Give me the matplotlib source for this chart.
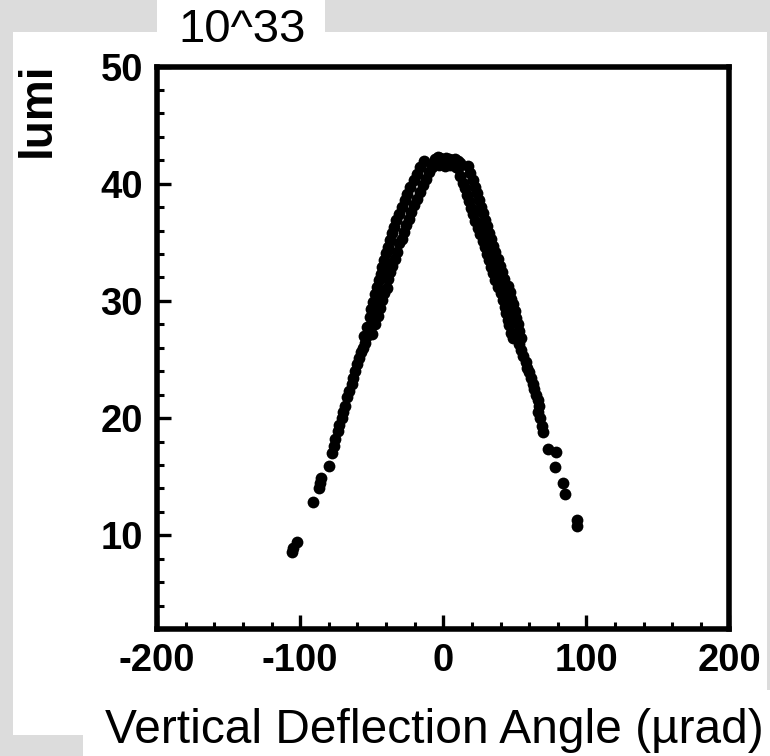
import matplotlib
matplotlib.use("Agg")
import matplotlib.pyplot as plt
from matplotlib.patches import Rectangle
from matplotlib.ticker import MultipleLocator

plt.rcParams["axes.unicode_minus"] = False

# luminosity scan vs vertical deflection angle: left flank, peak, right flank
angle_left = [
    -106.0, -105.0, -102.0, -91.0, -86.5, -86.0, -85.5, -80.0, -78.0, -76.5,
    -75.5, -73.5, -72.5, -71.0, -70.0, -68.5, -67.0, -66.0, -64.0, -63.0,
    -61.5, -60.0, -59.0, -57.5, -56.0, -55.0, -54.0,
    -55.5, -49.5, -53.0, -47.5, -51.5, -45.5, -50.5, -44.0, -49.0, -43.0,
    -48.0, -41.5, -46.0, -39.5, -45.0, -38.5, -43.5, -37.0, -42.5, -35.5,
    -41.5, -34.0, -40.0, -32.5, -38.5, -31.0, -37.5, -29.0, -36.0, -27.5,
    -34.5, -26.0, -33.0, -24.0, -31.0, -22.5, -29.0, -20.5, -27.0, -18.5,
    -25.0, -16.0, -23.0, -14.0, -20.5, -12.0, -18.5, -10.0, -16.0, -8.0,
    -13.5, -6.0,
]
lumi_left = [
    8.6, 8.9, 9.4, 12.8, 14.0, 14.5, 14.9, 15.9, 17.0, 17.6,
    18.2, 18.9, 19.4, 20.0, 20.5, 21.0, 21.8, 22.3, 22.9, 23.4,
    24.0, 24.6, 25.1, 25.6, 26.0, 26.4, 26.9,
    27.0, 27.2, 27.8, 28.0, 28.6, 28.7, 29.3, 29.4, 29.9, 30.1,
    30.6, 30.7, 31.2, 31.1, 31.8, 31.9, 32.3, 32.5, 32.9, 33.0,
    33.5, 33.6, 34.1, 34.2, 34.6, 34.9, 35.2, 35.3, 35.8, 35.9,
    36.3, 36.5, 36.9, 37.0, 37.4, 37.6, 38.0, 38.2, 38.6, 38.7,
    39.1, 39.3, 39.7, 39.9, 40.3, 40.4, 40.8, 41.0, 41.4, 41.4,
    41.9, 41.9,
]

angle_peak = [-6.0, -4.0, -2.0, 0.0, 2.0, 4.0, 6.0, 8.0, 10.0, 12.0, -3.0, 1.0, 5.0, 9.0]
lumi_peak = [42.1, 42.3, 42.2, 42.0, 42.2, 42.1, 42.0, 42.1, 41.9, 41.8, 41.6, 41.5, 41.6, 41.4]

angle_right = [
    10.5, 17.0, 12.0, 19.0, 13.5, 20.5, 15.0, 22.0, 16.5, 23.5,
    18.0, 25.0, 19.5, 26.5, 21.0, 28.0, 22.5, 29.0, 24.0, 30.5,
    25.5, 32.0, 27.5, 33.5, 29.0, 35.0, 30.5, 36.5, 32.0, 38.0,
    33.5, 39.5, 35.0, 41.0, 36.5, 42.5, 38.5, 45.0, 40.0, 46.5,
    41.5, 47.5, 43.0, 48.5, 44.0, 50.0, 45.0, 51.0, 46.0, 52.0,
    47.0, 53.0, 48.5, 54.5,
    53.0, 54.5, 56.0, 57.5, 58.5, 60.0, 61.0, 62.5, 63.5, 64.5,
    66.0, 67.0, 66.0, 67.5, 69.0, 69.5, 73.0, 77.8, 79.0, 83.6,
    84.8, 93.3, 93.3,
]
lumi_right = [
    41.3, 41.5, 40.7, 40.9, 40.1, 40.3, 39.6, 39.7, 39.0, 39.2,
    38.5, 38.6, 37.9, 38.0, 37.4, 37.5, 36.8, 36.9, 36.2, 36.4,
    35.7, 35.8, 35.1, 35.3, 34.6, 34.7, 34.0, 34.2, 33.5, 33.6,
    32.9, 33.0, 32.4, 32.5, 31.8, 31.9, 31.2, 31.3, 30.7, 30.8,
    30.1, 30.2, 29.5, 29.7, 29.0, 29.1, 28.4, 28.5, 27.9, 28.0,
    27.3, 27.4, 26.8, 26.8,
    26.3, 25.8, 25.3, 24.8, 24.3, 23.9, 23.4, 22.9, 22.5, 22.0,
    21.5, 21.0, 20.5, 20.0, 19.3, 18.8, 17.4, 15.8, 17.1, 14.5,
    13.5, 10.8, 11.3,
]

x_ticks = [-200, -100, 0, 100, 200]
y_ticks = [10, 20, 30, 40, 50]

fig = plt.figure(figsize=(7.7, 7.56), dpi=100)
fig.patch.set_facecolor("#dcdcdc")

# white panels behind the plot, the unit label and the axis title
for x0, y0, w, h in [(0.0169, 0.0278, 0.979, 0.930),
                     (0.2039, 0.9577, 0.218, 0.0423),
                     (0.1078, 0.0, 0.8922, 0.0873)]:
    fig.patches.append(Rectangle((x0, y0), w, h, transform=fig.transFigure,
                                 facecolor="white", edgecolor="none", zorder=-1))

ax = fig.add_axes([0.2039, 0.168, 0.7435, 0.744])
ax.set_facecolor("white")

for xs, ys in [(angle_left, lumi_left), (angle_peak, lumi_peak), (angle_right, lumi_right)]:
    ax.plot(xs, ys, "o", color="black", markersize=8.5, markeredgewidth=0)

ax.set_xlim(-200, 200)
ax.set_ylim(2, 50)
ax.set_xticks(x_ticks)
ax.set_yticks(y_ticks)
ax.xaxis.set_minor_locator(MultipleLocator(20))
ax.yaxis.set_minor_locator(MultipleLocator(2))
ax.tick_params(which="major", direction="in", length=10, width=2.4, pad=10)
ax.tick_params(which="minor", direction="in", length=5, width=2.2)
for lab in ax.get_xticklabels() + ax.get_yticklabels():
    lab.set_family("Liberation Sans")
    lab.set_weight("bold")
    lab.set_fontsize(27.5)
for sp in ax.spines.values():
    sp.set_linewidth(4)

fig.text(0.314, 0.960, "10^33", ha="center", va="center",
         family="Liberation Sans", fontsize=34)
fig.text(0.0487, 0.8545, "lumi", ha="center", va="center", rotation=90,
         family="Liberation Sans", weight="bold", fontsize=33)
fig.text(0.564, 0.0172, "Vertical Deflection Angle (\u00b5rad)", ha="center",
         va="baseline", family="Liberation Sans", fontsize=34.5)

fig.savefig("out.png", dpi=100, facecolor=fig.get_facecolor())
